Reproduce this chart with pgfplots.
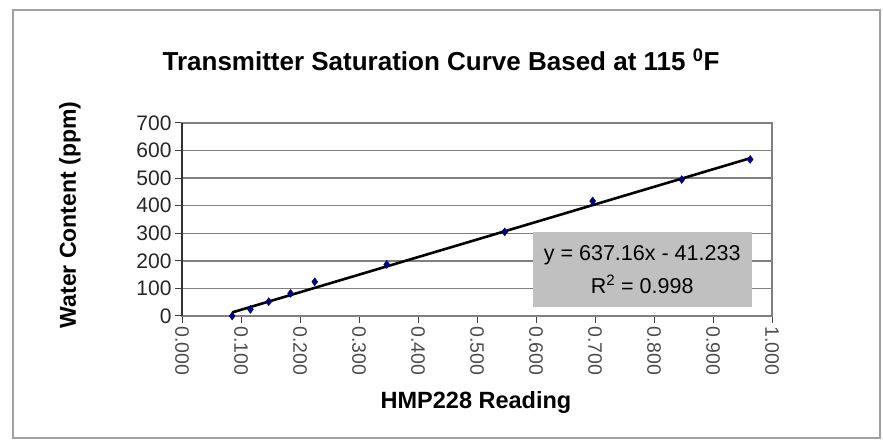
\documentclass[border=0pt]{standalone}
\usepackage{pgfplots}
\pgfplotsset{compat=1.18}
\usepackage{fontspec}
\setmainfont{Liberation Sans}
\definecolor{gridgray}{RGB}{128,128,128}
\definecolor{boxgray}{RGB}{192,192,192}
\definecolor{framegray}{RGB}{160,160,160}
\definecolor{navyblue}{RGB}{0,0,128}
\begin{document}
\begin{tikzpicture}
\useasboundingbox (0pt,0pt) rectangle (883pt,439pt);
\draw[framegray, line width=2pt] (13pt,1.5pt) rectangle (880pt,429pt);
\begin{axis}[
  at={(182pt,123pt)}, anchor=south west,
  width=590pt, height=193pt, scale only axis,
  xmin=0, xmax=1, ymin=0, ymax=700,
  xtick={0,0.1,...,1.0}, ytick={0,100,...,700},
  xtick pos=bottom, ytick pos=left,
  tick align=outside,
  major tick length=7pt,
  tick style={black!75, line width=1pt},
  axis line style={draw=gridgray, line width=1.2pt},
  ymajorgrids, major grid style={gridgray, line width=1.3pt},
  /pgf/number format/assume math mode=true,
  xticklabel style={rotate=-90, anchor=west, font=\fontsize{19.5}{19.5}\selectfont, text=black!70, /pgf/number format/.cd, fixed, fixed zerofill, precision=3},
  yticklabel style={font=\fontsize{21}{21}\selectfont, text=black!85},
  clip=false,
]
\draw[black!80, line width=1.3pt] (rel axis cs:0,0) -- (rel axis cs:0,1);
\addplot[only marks, mark=diamond*, mark size=4pt, color=navyblue] coordinates {
(0.085,0) (0.116,24) (0.147,52) (0.184,82) (0.225,124) (0.347,187) (0.547,305) (0.696,417) (0.847,495) (0.963,568)
};
\addplot[black, line width=2.6pt] coordinates {(0.085,12.9) (0.963,572.3)};
\node[fill=boxgray, minimum width=219pt, minimum height=75pt, align=center, inner sep=0pt, font=\fontsize{21.5}{33}\selectfont] at (axis cs:0.78,170) {y = 637.16x - 41.233\\R\textsuperscript{2} = 0.998};
\end{axis}
\node[font=\fontsize{26}{26}\selectfont\bfseries] at (441pt,379pt) {Transmitter Saturation Curve Based at 115 \textsuperscript{0}F};
\node[font=\fontsize{23.5}{23.5}\selectfont\bfseries] at (476pt,37pt) {HMP228 Reading};
\node[font=\fontsize{23}{23}\selectfont\bfseries, rotate=90] at (70pt,224pt) {Water Content (ppm)};
\end{tikzpicture}
\end{document}
